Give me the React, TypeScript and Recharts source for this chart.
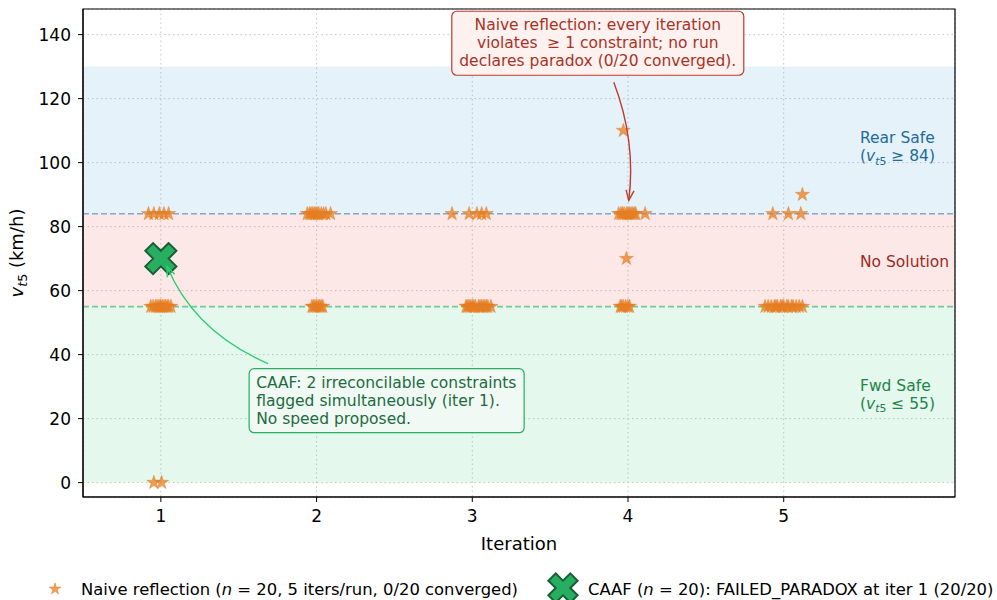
import React from 'react';
import {
  ScatterChart, Scatter, XAxis, YAxis, CartesianGrid, ReferenceArea,
  ReferenceLine, ReferenceDot, Legend,
} from 'recharts';

// ---------- data ----------
const iterationTicks = [1, 2, 3, 4, 5];
const speedTicks = [0, 20, 40, 60, 80, 100, 120, 140];

const REAR_SAFE_MIN = 84;
const FWD_SAFE_MAX = 55;
const REAR_BAND_TOP = 130;

// Naive reflection runs (x = iteration with jitter, v = proposed v_t5)
const naiveIter1X = [0.92, 0.955, 0.99, 1.02, 1.05, 0.935, 0.95, 0.965, 0.975, 0.985, 0.995, 1.0, 1.01, 1.02, 1.03, 1.04, 1.05, 1.065, 0.955, 1.005];
const naiveIter1V = [84, 84, 84, 84, 84, 55, 55, 55, 55, 55, 55, 55, 55, 55, 55, 55, 55, 55, 0, 0];

const naiveIter2X = [1.94, 1.955, 1.965, 1.975, 1.985, 1.995, 2.005, 2.015, 2.03, 2.045, 2.06, 2.09, 1.97, 1.98, 1.99, 2.0, 2.01, 2.02, 2.03, 2.04];
const naiveIter2V = [84, 84, 84, 84, 84, 84, 84, 84, 84, 84, 84, 84, 55, 55, 55, 55, 55, 55, 55, 55];

const naiveIter3X = [2.87, 2.98, 3.03, 3.06, 3.09, 2.96, 2.97, 2.98, 2.99, 3.0, 3.01, 3.02, 3.04, 3.05, 3.06, 3.07, 3.08, 3.09, 3.1, 3.12];
const naiveIter3V = [84, 84, 84, 84, 84, 55, 55, 55, 55, 55, 55, 55, 55, 55, 55, 55, 55, 55, 55, 55];

const naiveIter4X = [3.97, 3.99, 3.94, 3.955, 3.965, 3.975, 3.99, 4.0, 4.01, 4.02, 4.03, 4.04, 4.05, 4.11, 3.95, 3.96, 3.97, 3.985, 4.0, 4.01];
const naiveIter4V = [110, 70, 84, 84, 84, 84, 84, 84, 84, 84, 84, 84, 84, 84, 55, 55, 55, 55, 55, 55];

const naiveIter5X = [5.12, 4.93, 5.03, 5.11, 4.88, 4.9, 4.92, 4.94, 4.95, 4.96, 4.98, 4.99, 5.0, 5.02, 5.03, 5.05, 5.06, 5.08, 5.1, 5.12];
const naiveIter5V = [90, 84, 84, 84, 55, 55, 55, 55, 55, 55, 55, 55, 55, 55, 55, 55, 55, 55, 55, 55];

const caafX = [1];
const caafV = [70];

const naiveLabel = ['Naive reflection (', 'n', ' = 20, 5 iters/run, 0/20 converged)'];
const caafLabel = ['CAAF (', 'n', ' = 20): FAILED_PARADOX at iter 1 (20/20)'];

const naiveNote = ['Naive reflection: every iteration', 'violates  \u2265 1 constraint; no run', 'declares paradox (0/20 converged).'];
const caafNote = ['CAAF: 2 irreconcilable constraints', 'flagged simultaneously (iter 1).', 'No speed proposed.'];

// ---------- build tables ----------
const zipPts = (xs: number[], vs: number[]) => xs.map((x, i) => ({ x, v: vs[i] }));
const naiveData = [
  ...zipPts(naiveIter1X, naiveIter1V),
  ...zipPts(naiveIter2X, naiveIter2V),
  ...zipPts(naiveIter3X, naiveIter3V),
  ...zipPts(naiveIter4X, naiveIter4V),
  ...zipPts(naiveIter5X, naiveIter5V),
];
const caafData = zipPts(caafX, caafV);

// ---------- style ----------
const FONT = 'DejaVu Sans, sans-serif';
const ORANGE = '#e67e22';
const GREEN = '#27ae60';
const GREEN_DARK = '#1a5e36';
const RED = '#c0392b';

// ---------- marker shapes ----------
function starPoints(cx: number, cy: number, r: number) {
  const inner = r * 0.381966;
  const pts: string[] = [];
  for (let i = 0; i < 10; i++) {
    const rr = i % 2 === 0 ? r : inner;
    const a = -Math.PI / 2 + (i * Math.PI) / 5;
    pts.push(`${(cx + rr * Math.cos(a)).toFixed(2)},${(cy + rr * Math.sin(a)).toFixed(2)}`);
  }
  return pts.join(' ');
}

const plusBase = [[-1, -3], [-1, -1], [-3, -1], [-3, 1], [-1, 1], [-1, 3], [1, 3], [1, 1], [3, 1], [3, -1], [1, -1], [1, -3]];
function xPoints(cx: number, cy: number, s: number) {
  const c = Math.cos(Math.PI / 4);
  return plusBase
    .map(([px, py]) => {
      const ux = (px / 6) * s;
      const uy = (py / 6) * s;
      const rx = ux * c - uy * c;
      const ry = ux * c + uy * c;
      return `${(cx + rx).toFixed(2)},${(cy + ry).toFixed(2)}`;
    })
    .join(' ');
}

const StarShape = (props: any) => {
  const { cx, cy } = props;
  if (cx == null || cy == null) return <g />;
  return (
    <polygon points={starPoints(cx, cy, 7.4)} fill={ORANGE} fillOpacity={0.75} stroke={ORANGE} strokeOpacity={0.75} strokeWidth={0.6} />
  );
};

const XShape = (props: any) => {
  const { cx, cy } = props;
  if (cx == null || cy == null) return <g />;
  return <polygon points={xPoints(cx, cy, 33)} fill={GREEN} stroke={GREEN_DARK} strokeWidth={2} strokeLinejoin="miter" />;
};

// ---------- annotation helpers ----------
function arrowHead(tx: number, ty: number, fromX: number, fromY: number, color: string) {
  const dx = tx - fromX;
  const dy = ty - fromY;
  const len = Math.sqrt(dx * dx + dy * dy) || 1;
  const ux = dx / len;
  const uy = dy / len;
  const L = 10;
  const W = 4;
  const bx = tx - ux * L;
  const by = ty - uy * L;
  return (
    <path
      d={`M${bx - uy * W},${by + ux * W} L${tx},${ty} L${bx + uy * W},${by - ux * W}`}
      fill="none"
      stroke={color}
      strokeWidth={1.4}
    />
  );
}

const makeArrow = (tail: [number, number], ctrl: [number, number], color: string) => (p: any) => {
  const { cx, cy } = p;
  if (cx == null || cy == null) return <g />;
  const x0 = cx + tail[0];
  const y0 = cy + tail[1];
  const qx = cx + ctrl[0];
  const qy = cy + ctrl[1];
  return (
    <g>
      <path d={`M${x0},${y0} Q${qx},${qy} ${cx},${cy}`} fill="none" stroke={color} strokeWidth={1.4} />
      {arrowHead(cx, cy, qx, qy, color)}
    </g>
  );
};

const makeBox = (
  lines: string[], w: number, h: number, stroke: string, fill: string, color: string, align: 'middle' | 'start',
) => (p: any) => {
  const { cx, cy } = p;
  if (cx == null || cy == null) return <g />;
  const tx = align === 'middle' ? cx : cx - w / 2 + 7;
  const offsets = [-13, 5, 23];
  return (
    <g>
      <rect x={cx - w / 2} y={cy - h / 2} width={w} height={h} rx={5} ry={5} fill={fill} stroke={stroke} strokeWidth={1.2} />
      {lines.map((t, i) => (
        <text key={i} x={tx} y={cy + offsets[i]} textAnchor={align} fontFamily={FONT} fontSize={15.5} fill={color} style={{ whiteSpace: 'pre' }}>
          {t}
        </text>
      ))}
    </g>
  );
};

const VSub = ({ size }: { size: number }) => (
  <>
    <tspan fontStyle="italic">v</tspan>
    <tspan fontStyle="italic" fontSize={size * 0.7} dy={size * 0.22}>t</tspan>
    <tspan fontSize={size * 0.7}>5</tspan>
  </>
);

const makeRegionLabel = (line1: string, rel: string | null, color: string, off1: number, off2: number) => (p: any) => {
  const { cx, cy } = p;
  if (cx == null || cy == null) return <g />;
  return (
    <g>
      <text x={cx} y={cy + off1} fontFamily={FONT} fontSize={15.5} fill={color}>
        {line1}
      </text>
      {rel != null && (
        <text x={cx} y={cy + off2} fontFamily={FONT} fontSize={15.5} fill={color}>
          <tspan>(</tspan>
          <VSub size={15.5} />
          <tspan dy={-15.5 * 0.22}>{rel}</tspan>
        </text>
      )}
    </g>
  );
};

const YLabel = (props: any) => {
  const vb = props.viewBox || { x: 0, y: 9, width: 83, height: 488 };
  const x = 23;
  const y = vb.y + vb.height / 2;
  return (
    <text x={x} y={y} transform={`rotate(-90, ${x}, ${y})`} textAnchor="middle" fontFamily={FONT} fontSize={18} fill="#000">
      <VSub size={18} />
      <tspan dy={-18 * 0.22}> (km/h)</tspan>
    </text>
  );
};

const XLabel = (props: any) => {
  const vb = props.viewBox || { x: 83, y: 497, width: 872, height: 60 };
  return (
    <text x={vb.x + vb.width / 2} y={vb.y + 53} textAnchor="middle" fontFamily={FONT} fontSize={18} fill="#000">
      Iteration
    </text>
  );
};

const LegendContent = () => (
  <svg width={997} height={43} style={{ display: 'block', overflow: 'visible' }}>
    <polygon points={starPoints(55, 32, 6.2)} fill={ORANGE} fillOpacity={0.75} stroke={ORANGE} strokeOpacity={0.75} strokeWidth={0.6} />
    <text x={81} y={37.5} fontFamily={FONT} fontSize={16.4} fill="#000" style={{ whiteSpace: 'pre' }}>
      <tspan>{naiveLabel[0]}</tspan>
      <tspan fontStyle="italic">{naiveLabel[1]}</tspan>
      <tspan>{naiveLabel[2]}</tspan>
    </text>
    <polygon points={xPoints(563, 31, 31)} fill={GREEN} stroke={GREEN_DARK} strokeWidth={2} />
    <text x={588} y={37.5} fontFamily={FONT} fontSize={16.4} fill="#000" style={{ whiteSpace: 'pre' }}>
      <tspan>{caafLabel[0]}</tspan>
      <tspan fontStyle="italic">{caafLabel[1]}</tspan>
      <tspan>{caafLabel[2]}</tspan>
    </text>
  </svg>
);

export default function App() {
  return (
    <div style={{ position: 'absolute', left: 0, top: 0, width: 997, height: 600, background: '#fff' }}>
      <ScatterChart width={997} height={600} margin={{ top: 9, right: 42, left: 0, bottom: 0 }} style={{ fontFamily: FONT }}>
        <CartesianGrid stroke="#c8c8c8" strokeDasharray="1.5 3" strokeWidth={1} />
        <XAxis
          type="number"
          dataKey="x"
          domain={[0.5, 6.1]}
          ticks={iterationTicks}
          allowDataOverflow
          height={60}
          tickSize={5}
          tickMargin={8}
          stroke="#000"
          tick={{ fill: '#000', fontSize: 17, fontFamily: FONT }}
          label={{ content: XLabel }}
        />
        <YAxis
          type="number"
          dataKey="v"
          domain={[-4.5, 148]}
          ticks={speedTicks}
          allowDataOverflow
          width={83}
          tickSize={5}
          tickMargin={7}
          stroke="#000"
          tick={{ fill: '#000', fontSize: 17, fontFamily: FONT }}
          label={{ content: YLabel }}
        />
        <ReferenceArea y1={REAR_SAFE_MIN} y2={REAR_BAND_TOP} fill="#3498db" fillOpacity={0.13} stroke="none" />
        <ReferenceArea y1={FWD_SAFE_MAX} y2={REAR_SAFE_MIN} fill="#e74c3c" fillOpacity={0.12} stroke="none" />
        <ReferenceArea y1={0} y2={FWD_SAFE_MAX} fill="#2ecc71" fillOpacity={0.13} stroke="none" />
        <ReferenceLine y={REAR_SAFE_MIN} stroke="#2980b9" strokeOpacity={0.6} strokeWidth={1.6} strokeDasharray="6 3" />
        <ReferenceLine y={FWD_SAFE_MAX} stroke={GREEN} strokeOpacity={0.6} strokeWidth={1.6} strokeDasharray="6 3" />

        <Scatter name="naive" data={naiveData} shape={StarShape} isAnimationActive={false} />
        <Scatter name="caaf" data={caafData} shape={XShape} isAnimationActive={false} />

        <ReferenceDot x={5.49} y={104} r={0} shape={makeRegionLabel('Rear Safe', ' \u2265 84)', '#236a9c', -6.5, 11.5)} />
        <ReferenceDot x={5.49} y={69.5} r={0} shape={makeRegionLabel('No Solution', null, '#9b2a22', 7, 0)} />
        <ReferenceDot x={5.49} y={26.5} r={0} shape={makeRegionLabel('Fwd Safe', ' \u2264 55)', '#1e8449', -6.5, 11)} />

        <ReferenceDot x={4.005} y={88.2} r={0} shape={makeArrow([-15, -118], [7.5, -59], RED)} />
        <ReferenceDot x={1.04} y={67.5} r={0} shape={makeArrow([101, 97], [27.5, 65.5], '#2ecc71')} />
        <ReferenceDot x={3.806} y={137.3} r={0} shape={makeBox(naiveNote, 292, 64, RED, '#fdf2f0', '#a93226', 'middle')} />
        <ReferenceDot x={2.45} y={25.6} r={0} shape={makeBox(caafNote, 275, 64, GREEN, '#f0f9f3', '#1d6b3f', 'start')} />

        <ReferenceArea x1={0.5} x2={6.1} y1={-4.5} y2={148} fill="none" stroke="#000" strokeWidth={1.2} />
        <Legend verticalAlign="bottom" content={LegendContent} wrapperStyle={{ left: 0, width: 997, height: 43 }} />
      </ScatterChart>
    </div>
  );
}
